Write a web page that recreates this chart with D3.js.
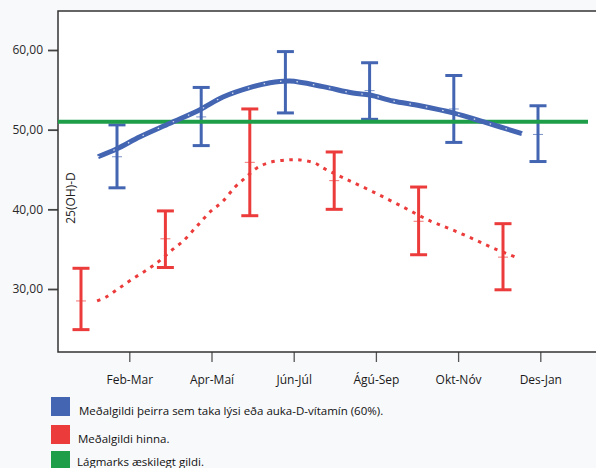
<!DOCTYPE html>
<html>
<head>
<meta charset="utf-8">
<script src="https://cdn.jsdelivr.net/npm/d3@7"></script>
<style>
  body { margin: 0; background: #f8f9fb; }
  svg { display: block; font-family: "Open Sans", sans-serif; }
</style>
</head>
<body>
<div id="chart"></div>
<script>
// values

const categories = ["Feb-Mar", "Apr-Maí", "Jún-Júl", "Ágú-Sep", "Okt-Nóv", "Des-Jan"]
const yTicks = [30, 40, 50, 60]

// those taking cod liver oil or extra vitamin D
const blueMean = [46.6, 51.6, 56.0, 54.9, 52.6, 49.4]
const blueLow  = [42.7, 48.0, 52.1, 51.3, 48.4, 46.0]
const blueHigh = [50.6, 55.3, 59.8, 58.4, 56.8, 53.0]

// the others
const redMean = [28.5, 36.3, 45.9, 43.6, 38.5, 34.0]
const redLow  = [24.9, 32.7, 39.2, 40.0, 34.3, 29.9]
const redHigh = [32.6, 39.8, 52.6, 47.2, 42.8, 38.2]

// lowest desired value
const threshold = 51

// fitted curves, x in category units (0 = Feb-Mar tick)
const blueCurveX = [-0.381, -0.150, 0.130, 0.495, 0.860, 1.140, 1.505, 1.712, 1.955, 2.356, 2.721, 2.928, 3.208, 3.537, 3.938, 4.303, 4.777]
const blueCurveY = [46.6, 47.6, 49.1, 50.8, 52.5, 54.1, 55.4, 55.9, 56.1, 55.4, 54.6, 54.35, 53.6, 53.0, 52.1, 51.0, 49.5]

const redCurveX = [-0.392, -0.283, -0.125, 0.045, 0.228, 0.374, 0.520, 0.653, 0.824, 0.994, 1.128, 1.286, 1.407, 1.553, 1.712, 1.918, 2.077, 2.259, 2.356, 2.636, 2.964, 3.329, 3.670, 3.913, 4.181, 4.436, 4.728]
const redCurveY = [28.5, 29.0, 30.1, 31.3, 32.5, 33.6, 34.9, 36.0, 37.9, 39.8, 40.9, 42.8, 43.9, 45.2, 45.9, 46.2, 46.2, 45.8, 45.2, 43.8, 42.2, 40.3, 38.5, 37.5, 36.3, 35.1, 33.9]

const legendLabels = [
  "Meðalgildi þeirra sem taka lýsi eða auka-D-vítamín (60%).",
  "Meðalgildi hinna.",
  "Lágmarks æskilegt gildi."
]

const blue = "#4365b2"
const red = "#ec3b3b"
const green = "#1f9e4a"

// set up the dimensions
const W = 596, H = 468
const plot = { left: 58, top: 11, right: 596, bottom: 352 }

const svg = d3.select("#chart").append("svg")
    .attr("width", W)
    .attr("height", H)

// plot area background
svg.append("rect")
    .attr("x", plot.left)
    .attr("y", plot.top)
    .attr("width", plot.right - plot.left)
    .attr("height", plot.bottom - plot.top)
    .style("fill", "#fff")

// scales
const xCat = d3.scaleLinear().domain([0, 5]).range([129.3, 540.3]) // axis ticks
const xBlue = d3.scaleLinear().domain([0, 5]).range([117, 538])
const xRed = d3.scaleLinear().domain([0, 5]).range([81, 503])
const y = d3.scaleLinear().domain([30, 60]).range([289, 50])

// axes
svg.append("g")
    .attr("transform", "translate(0," + plot.bottom + ")")
    .call(d3.axisBottom(xCat)
        .tickValues(d3.range(categories.length))
        .tickFormat(i => categories[i])
        .tickSize(10)
        .tickPadding(13))
    .call(g => g.select(".domain").remove())
    .call(g => g.selectAll("line").style("stroke", "#555").style("stroke-width", 1.3))
    .call(g => g.selectAll("text").style("font-size", "12px").style("fill", "#1a1a1a")
        .style("font-family", "'Open Sans', sans-serif"))

svg.append("g")
    .attr("transform", "translate(" + plot.left + ",0)")
    .call(d3.axisLeft(y)
        .tickValues(yTicks)
        .tickFormat(d => d.toFixed(2).replace(".", ","))
        .tickSize(10)
        .tickPadding(5))
    .call(g => g.select(".domain").remove())
    .call(g => g.selectAll("line").style("stroke", "#444").style("stroke-width", 1.8))
    .call(g => g.selectAll("text").style("font-size", "12px").style("fill", "#2a2a2a")
        .style("font-family", "'Open Sans', sans-serif"))

// frame
svg.append("path")
    .attr("d", "M" + plot.right + "," + plot.top + "H" + plot.left + "V" + plot.bottom + "H" + plot.right)
    .style("fill", "none")
    .style("stroke", "#333")
    .style("stroke-width", 1.5)

// y axis title, inside the frame
svg.append("text")
    .text("25(OH)-D")
    .attr("transform", "translate(75,198) rotate(-90)")
    .style("text-anchor", "middle")
    .style("font-size", "12px")
    .style("fill", "#222")

// error bars
function errorBars(cls, xs, lo, hi, mean, color) {
  const g = svg.append("g").attr("class", cls)
  const idx = d3.range(mean.length)
  g.selectAll("line.v").data(idx).enter().append("line")
      .attr("x1", i => xs(i)).attr("x2", i => xs(i))
      .attr("y1", i => y(hi[i])).attr("y2", i => y(lo[i]))
      .style("stroke", color).style("stroke-width", 3)
  g.selectAll("line.top").data(idx).enter().append("line")
      .attr("x1", i => xs(i) - 8.5).attr("x2", i => xs(i) + 8.5)
      .attr("y1", i => y(hi[i])).attr("y2", i => y(hi[i]))
      .style("stroke", color).style("stroke-width", 3)
  g.selectAll("line.bot").data(idx).enter().append("line")
      .attr("x1", i => xs(i) - 8.5).attr("x2", i => xs(i) + 8.5)
      .attr("y1", i => y(lo[i])).attr("y2", i => y(lo[i]))
      .style("stroke", color).style("stroke-width", 3)
  g.selectAll("line.mean").data(idx).enter().append("line")
      .attr("x1", i => xs(i) - 5).attr("x2", i => xs(i) + 5)
      .attr("y1", i => y(mean[i])).attr("y2", i => y(mean[i]))
      .style("stroke", color).style("stroke-width", 1).style("opacity", 0.7)
}
errorBars("blue-bars", xBlue, blueLow, blueHigh, blueMean, blue)
errorBars("red-bars", xRed, redLow, redHigh, redMean, red)

// threshold line
svg.append("line")
    .attr("x1", plot.left).attr("x2", 588)
    .attr("y1", y(threshold)).attr("y2", y(threshold))
    .style("stroke", green)
    .style("stroke-width", 4)

// curves
const line = d3.line().curve(d3.curveCatmullRom)
    .x(d => xCat(d[0]))
    .y(d => y(d[1]))

const bluePts = d3.zip(blueCurveX, blueCurveY)
const redPts = d3.zip(redCurveX, redCurveY)

svg.append("path")
    .attr("d", line(bluePts))
    .style("fill", "none")
    .style("stroke", blue)
    .style("stroke-width", 5)
    .style("stroke-linecap", "butt")

// faint white specks along the blue curve
svg.append("path")
    .attr("d", line(bluePts))
    .style("fill", "none")
    .style("stroke", "#fff")
    .style("stroke-width", 1.2)
    .style("stroke-dasharray", "1.5 15")
    .style("opacity", 0.8)

svg.append("path")
    .attr("d", line(redPts))
    .style("fill", "none")
    .style("stroke", red)
    .style("stroke-width", 3)
    .style("stroke-dasharray", "3.5 5.5")

// legend
const legendColors = [blue, red, green]
const legendY = [397, 425, 451]
const textY = [415, 443, 466]
const legendTextX = [79, 78, 77]

svg.selectAll(".swatch")
    .data(legendLabels)
    .enter()
    .append("rect")
    .attr("class", "swatch")
    .attr("x", 51)
    .attr("y", (d, i) => legendY[i])
    .attr("width", 19)
    .attr("height", 19)
    .style("fill", (d, i) => legendColors[i])

svg.selectAll(".legend-label")
    .data(legendLabels)
    .enter()
    .append("text")
    .attr("class", "legend-label")
    .text(d => d)
    .attr("x", (d, i) => legendTextX[i])
    .attr("y", (d, i) => textY[i])
    .style("font-size", "11.5px")
    .style("fill", "#111")
</script>
</body>
</html>
